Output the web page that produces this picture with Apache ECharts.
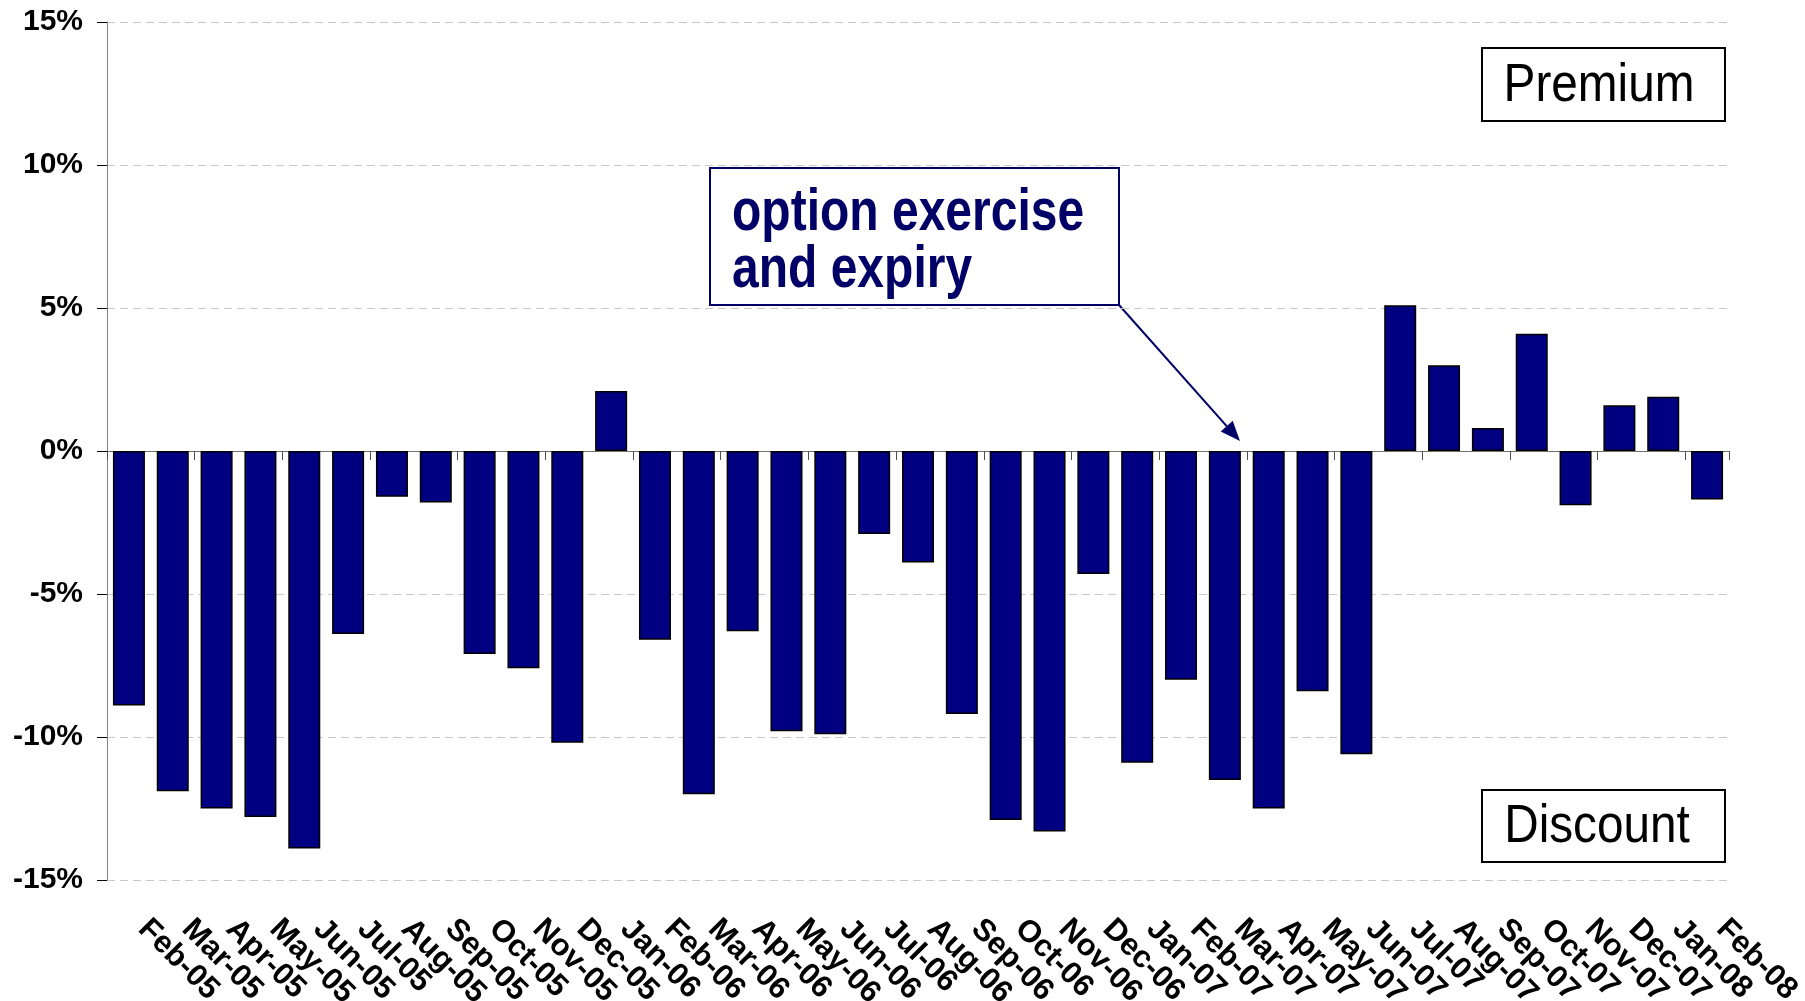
<!DOCTYPE html>
<html>
<head>
<meta charset="utf-8">
<script src="https://cdn.jsdelivr.net/npm/echarts@6/dist/echarts.min.js"></script>
<style>
  html, body { margin: 0; padding: 0; background: #fff; }
  #main { width: 1805px; height: 1001px; }
</style>
</head>
<body>
<div id="main"></div>
<script>
// 月份
const months = [
  "Feb-05", "Mar-05", "Apr-05", "May-05", "Jun-05", "Jul-05", "Aug-05", "Sep-05",
  "Oct-05", "Nov-05", "Dec-05", "Jan-06", "Feb-06", "Mar-06", "Apr-06", "May-06",
  "Jun-06", "Jul-06", "Aug-06", "Sep-06", "Oct-06", "Nov-06", "Dec-06", "Jan-07",
  "Feb-07", "Mar-07", "Apr-07", "May-07", "Jun-07", "Jul-07", "Aug-07", "Sep-07",
  "Oct-07", "Nov-07", "Dec-07", "Jan-08", "Feb-08"
];

// premium / discount (%)
const premiumDiscount = [
  -8.9, -11.9, -12.5, -12.8, -13.9, -6.4, -1.6, -1.8,
  -7.1, -7.6, -10.2, 2.1, -6.6, -12.0, -6.3, -9.8,
  -9.9, -2.9, -3.9, -9.2, -12.9, -13.3, -4.3, -10.9,
  -8.0, -11.5, -12.5, -8.4, -10.6, 5.1, 3.0, 0.8,
  4.1, -1.9, 1.6, 1.9, -1.7
];

const yTicks = { min: -15, max: 15, step: 5 };

const FONT = '"Liberation Sans", Arial, sans-serif';
const NAVY = "#000066";

// arrow from callout corner to the bars
const arrowFrom = [1119, 305];
const arrowTo = [1240, 441];

function arrowHead(from, to, len, half) {
  const dx = to[0] - from[0];
  const dy = to[1] - from[1];
  const d = Math.sqrt(dx * dx + dy * dy);
  const ux = dx / d, uy = dy / d;
  const bx = to[0] - ux * len, by = to[1] - uy * len;
  return {
    base: [bx, by],
    points: [to, [bx - uy * half, by + ux * half], [bx + uy * half, by - ux * half]]
  };
}

const head = arrowHead(arrowFrom, arrowTo, 20, 8);

const chart = echarts.init(document.getElementById("main"), null, { renderer: "canvas" });

const option = {
  backgroundColor: "#fff",
  animation: false,
  grid: { left: 107, right: 76, top: 22, bottom: 121, containLabel: false, outerBoundsMode: "none" },
  xAxis: [
    {
      type: "category",
      position: "bottom",
      data: months,
      axisLine: { show: false, onZero: false },
      axisTick: { show: false },
      axisLabel: {
        interval: 0,
        rotate: -45,
        margin: 30,
        padding: [0, 0, 0, 20],
        color: "#000",
        fontFamily: FONT,
        fontWeight: "bold",
        fontSize: 31
      }
    },
    {
      // zero line with the category ticks
      type: "category",
      position: "top",
      data: months,
      axisLine: { show: true, onZero: true, lineStyle: { color: "#707070", width: 1 } },
      axisTick: { show: true, inside: true, length: 9, lineStyle: { color: "#505050" } },
      axisLabel: { show: false }
    }
  ],
  yAxis: {
    type: "value",
    min: yTicks.min,
    max: yTicks.max,
    interval: yTicks.step,
    axisLine: { show: true, lineStyle: { color: "#808080", width: 1 } },
    axisTick: { show: true, length: 10, lineStyle: { color: "#000" } },
    axisLabel: {
      formatter: "{value}%",
      margin: 24,
      color: "#000",
      fontFamily: FONT,
      fontWeight: "bold",
      fontSize: 30
    },
    splitLine: {
      show: true,
      lineStyle: { color: "#c8c8c8", width: 1, type: [8, 5] }
    }
  },
  series: [
    {
      type: "bar",
      xAxisIndex: 0,
      data: premiumDiscount,
      barWidth: "73%",
      itemStyle: { color: "#000080", borderColor: "#000", borderWidth: 1.5 }
    }
  ],
  graphic: [
    {
      type: "rect",
      shape: { x: 1482, y: 48, width: 243, height: 73 },
      style: { fill: "#fff", stroke: "#000", lineWidth: 2 }
    },
    {
      type: "text",
      x: 1599,
      y: 86,
      scaleX: 0.9,
      style: {
        text: "Premium", x: 0, y: 0, align: "center", verticalAlign: "middle",
        fontFamily: FONT, fontSize: 53, fill: "#000"
      }
    },
    {
      type: "rect",
      shape: { x: 1482, y: 790, width: 243, height: 72 },
      style: { fill: "#fff", stroke: "#000", lineWidth: 2 }
    },
    {
      type: "text",
      x: 1597,
      y: 827,
      scaleX: 0.9,
      style: {
        text: "Discount", x: 0, y: 0, align: "center", verticalAlign: "middle",
        fontFamily: FONT, fontSize: 53, fill: "#000"
      }
    },
    {
      type: "rect",
      shape: { x: 710, y: 168, width: 409, height: 137 },
      style: { fill: "#fff", stroke: NAVY, lineWidth: 2 }
    },
    {
      type: "text",
      x: 732,
      y: 213,
      scaleX: 0.8,
      style: {
        text: "option exercise", x: 0, y: 0, align: "left", verticalAlign: "middle",
        fontFamily: FONT, fontWeight: "bold", fontSize: 60, fill: NAVY
      }
    },
    {
      type: "text",
      x: 732,
      y: 270,
      scaleX: 0.8,
      style: {
        text: "and expiry", x: 0, y: 0, align: "left", verticalAlign: "middle",
        fontFamily: FONT, fontWeight: "bold", fontSize: 60, fill: NAVY
      }
    },
    {
      type: "line",
      shape: { x1: arrowFrom[0], y1: arrowFrom[1], x2: head.base[0], y2: head.base[1] },
      style: { stroke: NAVY, lineWidth: 2 }
    },
    {
      type: "polygon",
      shape: { points: head.points },
      style: { fill: NAVY }
    }
  ]
};

chart.setOption(option);
</script>
</body>
</html>
